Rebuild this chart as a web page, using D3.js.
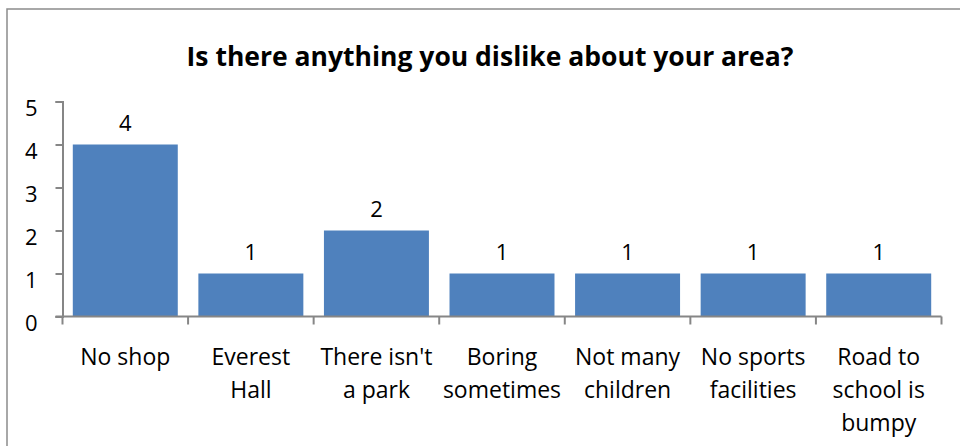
<!DOCTYPE html>
<html>
<head>
<meta charset="utf-8">
<script src="https://cdn.jsdelivr.net/npm/d3@7"></script>
<style>
  body { margin: 0; background: #fff; }
  svg { display: block; font-family: "Open Sans", sans-serif; }
</style>
</head>
<body>
<svg id="chart" width="960" height="446"></svg>
<script>
const categories = [
  ["No shop"],
  ["Everest", "Hall"],
  ["There isn't", "a park"],
  ["Boring", "sometimes"],
  ["Not many", "children"],
  ["No sports", "facilities"],
  ["Road to", "school is", "bumpy"]
];
const values = [4, 1, 2, 1, 1, 1, 1];
const yTicks = [0, 1, 2, 3, 4, 5];
const title = "Is there anything you dislike about your area?";

const svg = d3.select("#chart");
const axisColor = "#868686";
const font = "'Open Sans', sans-serif";

// outer chart border (right and bottom fall outside the crop)
svg.append("rect")
  .attr("x", 7).attr("y", 9)
  .attr("width", 980).attr("height", 460)
  .attr("fill", "#fff")
  .attr("stroke", "#8c8c8c")
  .attr("stroke-width", 1.5);

svg.append("text")
  .attr("x", 490).attr("y", 66)
  .attr("text-anchor", "middle")
  .attr("font-size", 26.5)
  .attr("font-weight", "bold")
  .text(title);

const x = d3.scaleBand()
  .domain(d3.range(categories.length))
  .range([62.5, 941.5])
  .paddingInner(0.164)
  .paddingOuter(0.082);

const y = d3.scaleLinear().domain([0, 5]).range([316.5, 101.5]);

// bars
svg.selectAll("rect.bar")
  .data(values)
  .join("rect")
  .attr("class", "bar")
  .attr("x", (d, i) => x(i))
  .attr("y", (d) => y(d))
  .attr("width", x.bandwidth())
  .attr("height", (d) => y(0) - y(d))
  .attr("fill", "#4F81BD");

// y axis (labels sit a little below their ticks, as in the original)
const yAxis = svg.append("g")
  .attr("transform", "translate(62.5,0)")
  .call(d3.axisLeft(y).tickValues(yTicks).tickFormat(d3.format("d")).tickSize(7).tickPadding(18));
yAxis.select(".domain").attr("stroke", axisColor).attr("stroke-width", 2);
yAxis.selectAll(".tick line").attr("stroke", axisColor).attr("stroke-width", 2);
yAxis.selectAll(".tick text")
  .attr("font-size", 22)
  .attr("font-family", font)
  .attr("dy", "0.32em")
  .attr("y", 7)
  .attr("fill", "#000");

// x axis line with ticks at category boundaries
const step = x.step();
const x0 = 62.5;
svg.append("line")
  .attr("x1", x0 - 7).attr("x2", 941.5)
  .attr("y1", y(0)).attr("y2", y(0))
  .attr("stroke", axisColor).attr("stroke-width", 2);
svg.selectAll("line.xtick")
  .data(d3.range(categories.length + 1))
  .join("line")
  .attr("class", "xtick")
  .attr("x1", (i) => x0 + i * step)
  .attr("x2", (i) => x0 + i * step)
  .attr("y1", y(0))
  .attr("y2", y(0) + 8)
  .attr("stroke", axisColor)
  .attr("stroke-width", 2);

// category labels
svg.selectAll("text.cat")
  .data(categories)
  .join("text")
  .attr("class", "cat")
  .attr("text-anchor", "middle")
  .attr("font-size", 23)
  .attr("fill", "#000")
  .each(function (lines, i) {
    d3.select(this).selectAll("tspan")
      .data(lines)
      .join("tspan")
      .attr("x", x(i) + x.bandwidth() / 2)
      .attr("y", (l, j) => 365 + j * 33)
      .text((l) => l);
  });

// data labels
svg.selectAll("text.val")
  .data(values)
  .join("text")
  .attr("class", "val")
  .attr("x", (d, i) => x(i) + x.bandwidth() / 2)
  .attr("y", (d) => y(d) - 14)
  .attr("text-anchor", "middle")
  .attr("font-size", 22)
  .attr("fill", "#000")
  .text((d) => d);
</script>
</body>
</html>
